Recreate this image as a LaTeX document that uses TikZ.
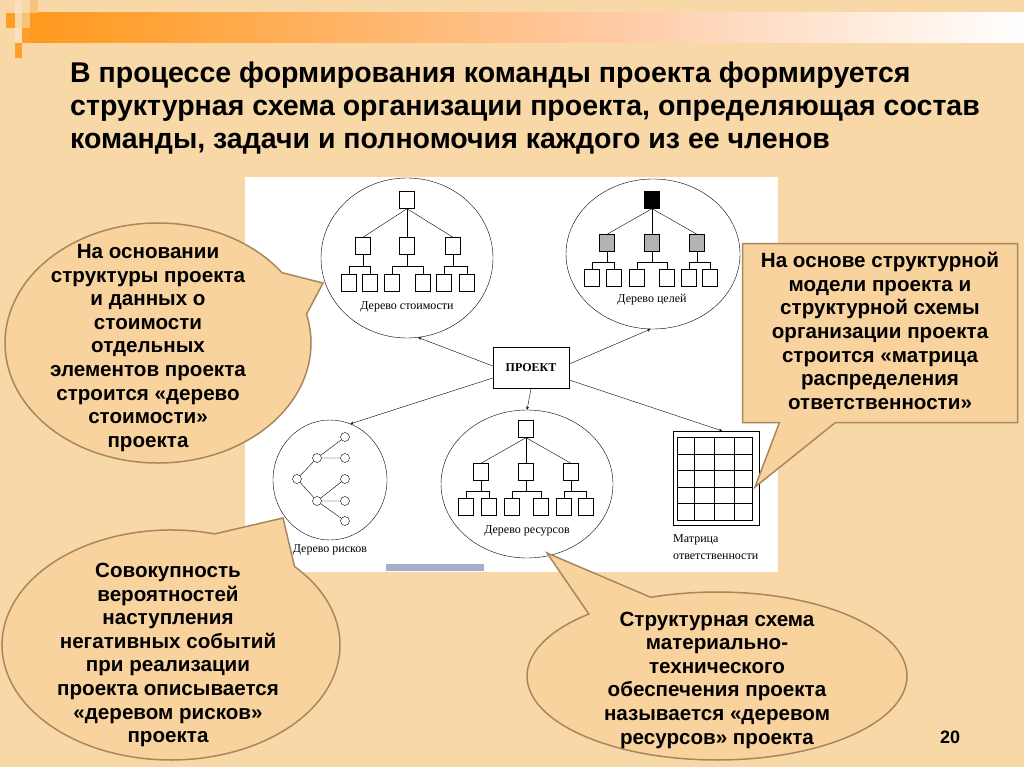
\documentclass[tikz,border=0pt]{standalone}
\usepackage{fontspec}
\setmainfont{Liberation Serif}
\setsansfont{Liberation Sans}
\usetikzlibrary{arrows,calc,shapes.geometric,shapes.callouts}

\definecolor{slidebg}{HTML}{F8D8A7}
\definecolor{bandorange}{HTML}{FF991C}
\definecolor{bandpeach}{HTML}{FFCBA6}
\definecolor{squareor}{HTML}{FF9E2A}
\definecolor{squarelt}{HTML}{F9C27C}
\definecolor{bubblefill}{HTML}{F9D39E}
\definecolor{bubbleedge}{HTML}{A9875C}
\definecolor{barblue}{HTML}{A6AFC9}

\begin{document}
\begin{tikzpicture}[x=1pt,y=-1pt,>=stealth,
  box/.style={rectangle,draw=black,fill=white,minimum width=15pt,minimum height=17pt,inner sep=0},
  goal/.style={box,fill=black!30},
  dot/.style={circle,draw=black,fill=white,minimum size=9pt,inner sep=0},
  tree/.style={ellipse,draw=black,thin,inner sep=0},
  caption/.style={font=\rmfamily\fontsize{12}{17}\selectfont,inner sep=0},
  bubble/.style={fill=bubblefill,draw=bubbleedge,line width=1.5pt,inner sep=0},
  say/.style={font=\sffamily\bfseries\fontsize{20.6}{23.6}\selectfont,align=center,inner sep=0},
  link/.style={->,thin}]
  % slide background
  \fill[slidebg] (0,0) rectangle (1024,767);
  \useasboundingbox (0,0) rectangle (1024,767);
  \shade[left color=bandorange,right color=bandpeach] (30,13) rectangle (620,43);
  \shade[left color=bandpeach,right color=white] (620,13) rectangle (1024,43);
  \fill[squareor] (6,13) rectangle (15,28);
  \fill[squareor] (15,43) rectangle (22,58);
  \fill[squareor] (22,28) rectangle (30,43);
  \fill[squarelt] (22,13) rectangle (30,28);
  \fill[squarelt] (30,0) rectangle (38,13);
  \fill[squarelt!50] (15,0) rectangle (22,13);
  \fill[squarelt!50] (15,28) rectangle (22,43);
  % picture panel
  \fill[white] (245,177) rectangle (778,572);
  \fill[barblue] (386,564) rectangle (484,571);

  % cost tree
  \node[tree,minimum width=172pt,minimum height=160pt] (costE) at (407,258) {};
  \node[box] (c0) at (407,200) {};
  \foreach \n/\x in {1/363,2/407,3/453} {
    \node[box] (c\n) at (\x,246) {};
    \draw (c0.south) -- (c\n.north);
  }
  \foreach \n/\x in {11/349,12/370,21/392,22/423,31/444,32/467}
    \node[box] (c\n) at (\x,283) {};
  \foreach \n in {1,2,3} {
    \draw (c\n.south) -- ++(0,11) coordinate (c\n m);
    \draw (c\n1.north) |- (c\n m) -| (c\n2.north);
  }
  \node[caption] (costL) at (407,307) {Дерево стоимости};

  % goals tree
  \node[tree,minimum width=174pt,minimum height=150pt] (goalsE) at (653,254) {};
  \node[box,fill=black] (g0) at (652,200) {};
  \foreach \n/\x in {1/607,2/652,3/697} {
    \node[goal] (g\n) at (\x,243) {};
    \draw (g0.south) -- (g\n.north);
  }
  \foreach \n/\x in {11/592,12/614,21/637,22/667,31/689,32/710}
    \node[box] (g\n) at (\x,278) {};
  \foreach \n in {1,2,3} {
    \draw (g\n.south) -- ++(0,10) coordinate (g\n m);
    \draw (g\n1.north) |- (g\n m) -| (g\n2.north);
  }
  \node[caption] (goalsL) at (652,300) {Дерево целей};

  % resources tree
  \node[tree,minimum width=172pt,minimum height=148pt] (resE) at (527,484) {};
  \node[box] (s0) at (526,429) {};
  \foreach \n/\x in {1/481,2/526,3/571} {
    \node[box] (s\n) at (\x,472) {};
    \draw (s0.south) -- (s\n.north);
  }
  \foreach \n/\x in {11/466,12/489,21/512,22/541,31/564,32/586}
    \node[box] (s\n) at (\x,507) {};
  \foreach \n in {1,2,3} {
    \draw (s\n.south) -- ++(0,10) coordinate (s\n m);
    \draw (s\n1.north) |- (s\n m) -| (s\n2.north);
  }
  \node[caption] (resL) at (527,531) {Дерево ресурсов};

  % risk tree
  \node[tree,minimum width=114pt,minimum height=120pt] (riskE) at (330,480) {};
  \node[dot] (r0) at (297,479) {};
  \node[dot] (r1) at (317,458) {};
  \node[dot] (r2) at (317,501) {};
  \foreach \n/\y in {11/437,12/458,21/479,22/501,23/521}
    \node[dot] (r\n) at (345,\y) {};
  \draw (r0) -- (r1) (r0) -- (r2);
  \draw (r1) -- (r11) (r1) -- (r12);
  \draw (r2) -- (r21) (r2) -- (r22) (r2) -- (r23);
  \node[caption] (riskL) at (330,550) {Дерево рисков};

  % responsibility matrix
  \node[draw=black,thin,minimum width=86pt,minimum height=94pt,inner sep=0] (mtx) at (716,478) {};
  \draw[line width=1pt] (677,437) rectangle (752,520);
  \foreach \x in {694,714,734} \draw[line width=0.8pt] (\x,437) -- (\x,520);
  \foreach \y in {454,470,487,503} \draw[line width=0.8pt] (677,\y) -- (752,\y);
  \node[caption,anchor=north west,align=left] (mtxL) at (673,534) {Матрица\\ответственности};

  % project
  \node[draw=black,thin,fill=white,minimum width=76pt,minimum height=41pt,
        font=\rmfamily\bfseries\fontsize{12}{14}\selectfont] (proj) at (531,368) {ПРОЕКТ};
  \draw[link] ([yshift=2pt]proj.west) -- (costE.278);
  \draw[link] ([yshift=4pt]proj.east) -- (goalsE.268);
  \draw[link] ([yshift=-10pt]proj.west) -- (riskE.70);
  \draw[link] (proj.south) -- (resE.north);
  \draw[link] ([yshift=-12pt]proj.east) -- ([xshift=6pt]mtx.north);

  % callouts
  \node[ellipse callout,bubble,minimum width=306pt,minimum height=240pt,
        callout absolute pointer={(323,283)},callout pointer arc=22] (bubA) at (158,343) {};
  \node[say] (sayA) at (148,348) {На основании\\структуры проекта\\и данных о\\стоимости\\отдельных\\элементов проекта\\строится «дерево\\стоимости»\\проекта};

  \node[ellipse callout,bubble,minimum width=338pt,minimum height=230pt,
        callout absolute pointer={(283,518)},callout pointer arc=32] (bubB) at (171,645) {};
  \node[say] (sayB) at (168,655) {Совокупность\\вероятностей\\наступления\\негативных событий\\при реализации\\проекта описывается\\«деревом рисков»\\проекта};

  \node[ellipse callout,bubble,minimum width=380pt,minimum height=168pt,
        callout absolute pointer={(547,553)},callout pointer arc=22] (bubC) at (717,676) {};
  \node[say] (sayC) at (717,680) {Структурная схема\\материально-\\технического\\обеспечения проекта\\называется «деревом\\ресурсов» проекта};

  \node[rectangle callout,bubble,minimum width=275pt,minimum height=179pt,
        callout absolute pointer={(755,487)},callout pointer width=56pt] (bubD) at (880,333) {};
  \node[say] (sayD) at (880,331) {На основе структурной\\модели проекта и\\структурной схемы\\организации проекта\\строится «матрица\\распределения\\ответственности»};

  % title and page number
  \node[anchor=north west,align=left,inner sep=0,
        font=\sffamily\bfseries\fontsize{28.5}{33}\selectfont] (title) at (70,62)
    {В процессе формирования команды проекта формируется\\структурная схема организации проекта, определяющая состав\\команды, задачи и полномочия каждого из ее членов};
  \node[font=\sffamily\bfseries\fontsize{18}{20}\selectfont] (pageno) at (950,737) {20};
\end{tikzpicture}
\end{document}
